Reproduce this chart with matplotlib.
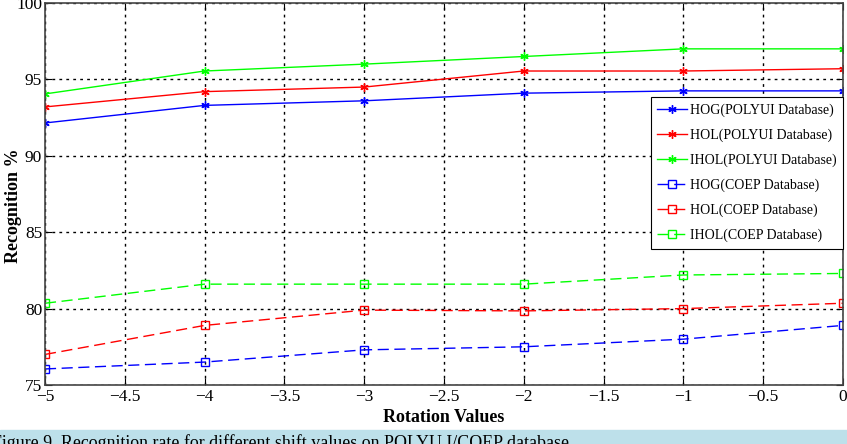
import matplotlib
matplotlib.use("Agg")
from matplotlib import pyplot as plt
from matplotlib.patches import Rectangle

plt.rcParams['font.family'] = ['Liberation Serif', 'DejaVu Serif']

# 数据(从图上读出来的)
rotation = [-5, -4, -3, -2, -1, 0]
hog_polyu = [92.15, 93.3, 93.6, 94.1, 94.25, 94.25]
hol_polyu = [93.2, 94.2, 94.5, 95.55, 95.55, 95.7]
ihol_polyu = [94.05, 95.55, 96.0, 96.5, 97.0, 97.0]
hog_coep = [76.05, 76.5, 77.3, 77.5, 78.0, 78.9]
hol_coep = [77.0, 78.9, 79.9, 79.85, 80.0, 80.35]
ihol_coep = [80.35, 81.6, 81.6, 81.6, 82.2, 82.3]

labels = ["HOG(POLYUI Database)", "HOL(POLYUI Database)", "IHOL(POLYUI Database)",
          "HOG(COEP Database)", "HOL(COEP Database)", "IHOL(COEP Database)"]

fig = plt.figure(figsize=(8.47, 4.44), dpi=100)
ax = fig.add_axes([0.0531, 0.1329, 0.9422, 0.8603])

star = (6, 2, 0)
ax.plot(rotation, hog_polyu, color="#0000ff", lw=1, marker=star, ms=6, label=labels[0])
ax.plot(rotation, hol_polyu, color="#ff0000", lw=1, marker=star, ms=6, label=labels[1])
ax.plot(rotation, ihol_polyu, color="#00ff00", lw=1, marker=star, ms=6, label=labels[2])
dash = (0, (8, 4))
ax.plot(rotation, hog_coep, color="#0000ff", lw=1, ls=dash, marker="s", ms=5.5, mfc="none", label=labels[3])
ax.plot(rotation, hol_coep, color="#ff0000", lw=1, ls=dash, marker="s", ms=5.5, mfc="none", label=labels[4])
ax.plot(rotation, ihol_coep, color="#00ff00", lw=1, ls=dash, marker="s", ms=5.5, mfc="none", label=labels[5])

ax.set_xlim(-5, 0)
ax.set_ylim(75, 100)
ax.set_xticks([-5, -4.5, -4, -3.5, -3, -2.5, -2, -1.5, -1, -0.5, 0])
ax.set_xticklabels(["\u22125", "\u22124.5", "\u22124", "\u22123.5", "\u22123", "\u22122.5",
                    "\u22122", "\u22121.5", "\u22121", "\u22120.5", "0"])
ax.set_yticks(range(75, 101, 5))
ax.tick_params(direction="in", top=True, right=True, length=5, labelsize=12.5, pad=3)
ax.tick_params(axis="y", pad=2)
ax.grid(True, color="black", linestyle=(0, (2, 3)), lw=1)
for s in ax.spines.values():
    s.set_color("#444444")
    s.set_linewidth(1.2)

ax.set_xlabel("Rotation Values", fontsize=13, fontweight="bold", labelpad=3)
ax.set_ylabel("Recognition %", fontsize=13, fontweight="bold")
ax.yaxis.set_label_coords(-0.029, 0.47)

leg = ax.legend(loc="upper right", bbox_to_anchor=(1.0, 0.754), borderaxespad=0,
                fontsize=10, fancybox=False, framealpha=1, edgecolor="black",
                borderpad=0.45, labelspacing=0.84, handlelength=2.2, handletextpad=0.2)
leg.get_frame().set_linewidth(0.8)

# 下面的图注条
fig.patches.append(Rectangle((0, 0), 1, 14 / 444, transform=fig.transFigure,
                             color="#bde0ea", zorder=0))
fig.text(-0.010, -0.008, "Figure 9. Recognition rate for different shift values on POLYU I/COEP database.",
         fontsize=12.9, color="black", va="baseline", ha="left")

fig.savefig("out.png", dpi=100)
